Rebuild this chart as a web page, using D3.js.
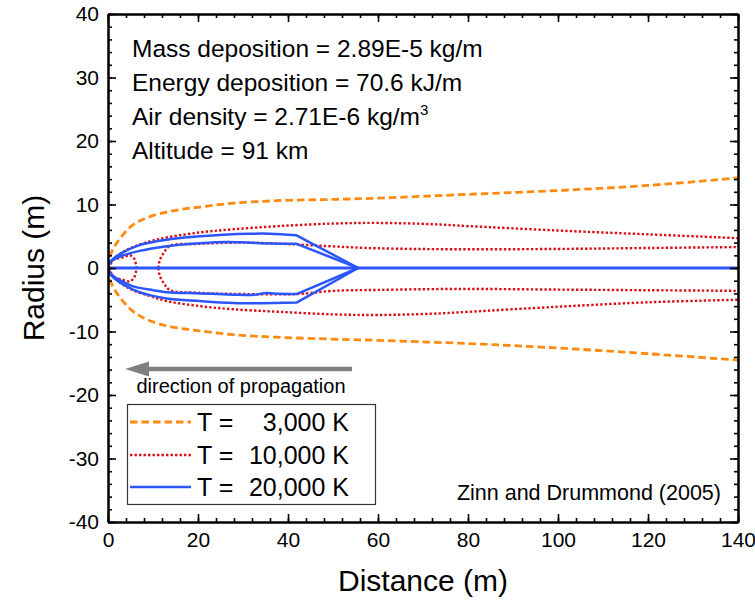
<!DOCTYPE html>
<html><head><meta charset="utf-8">
<script src="https://cdn.jsdelivr.net/npm/d3@7"></script>
<style>body{margin:0;background:#fff} text{font-family:"Liberation Sans",Arial,sans-serif;fill:#000}</style>
</head><body>
<svg id="c" width="755" height="600"></svg>
<script>
// ---- data ----
const xTicks = [0, 20, 40, 60, 80, 100, 120, 140];
const yTicks = [-40, -30, -20, -10, 0, 10, 20, 30, 40];
const legendTemps = ["3,000 K", "10,000 K", "20,000 K"];
const annotations = ["Mass deposition = 2.89E-5 kg/m", "Energy deposition = 70.6 kJ/m", "Air density = 2.71E-6 kg/m", "Altitude = 91 km"];

// T = 3,000 K contour
const t3Upper = [[0,0],[0.3,1.5],[1,2.8],[2,4.0],[3.4,5.3],[5,6.5],[7,7.4],[9.3,8.1],[13,8.8],[17,9.3],[20.4,9.6],[27.8,10.2],[37.5,10.6],[50,10.8],[60,11.0],[80,11.6],[100,12.2],[120,13.0],[140,14.2]];
const t3Lower = [[0,0],[0.3,-1.5],[1,-2.8],[2,-4.0],[3.4,-5.3],[5,-6.5],[7,-7.5],[9.3,-8.3],[13,-9.1],[17,-9.6],[20.4,-9.9],[27.8,-10.5],[37.5,-10.9],[50,-11.2],[60,-11.4],[80,-11.9],[100,-12.6],[120,-13.5],[140,-14.5]];

// T = 10,000 K contours
const t10OuterUpper = [[0,0],[1,1.1],[2,1.9],[3.5,2.6],[5.5,3.3],[9.3,4.2],[13,4.8],[20.4,5.6],[27.8,6.1],[38,6.6],[50,7.0],[60,7.1],[72,6.9],[80,6.6],[100,5.9],[120,5.3],[140,4.7]];
const t10OuterLower = [[0,0],[1,-1.1],[2,-1.9],[3.5,-2.7],[5.5,-3.5],[9.3,-4.4],[13,-5.2],[20.4,-6.0],[27.8,-6.5],[38,-6.9],[50,-7.3],[60,-7.4],[72,-7.2],[80,-6.9],[100,-6.1],[120,-5.4],[140,-5.0]];
const t10InnerUpper = [[11.2,0],[11.5,1.2],[12.5,2.5],[13.8,3.5],[20,3.8],[30,4.0],[42,3.7],[50,3.4],[60,3.1],[78,2.95],[100,3.0],[120,3.15],[140,3.3]];
const t10InnerLower = [[11.2,0],[11.5,-1.2],[12.5,-2.5],[13.8,-3.5],[20,-3.9],[30,-4.1],[42,-4.1],[50,-3.6],[60,-3.45],[78,-3.3],[100,-3.4],[120,-3.5],[140,-3.6]];
const t10Loop = [[0,0],[1.2,1.3],[3,1.6],[4.9,2.0],[5.8,1.5],[6.2,0.6],[6.3,0],[6.2,-0.6],[5.8,-1.5],[4.9,-2.1],[3,-1.8],[1.2,-1.4],[0,0]];

// T = 20,000 K contours (last point is the tip reached by a straight segment)
const t20OuterUpper = [[0,0],[0.4,0.9],[1.6,1.7],[3.4,2.5],[7,3.6],[10.8,4.2],[14.5,4.6],[20.4,5.0],[25.6,5.25],[31.6,5.4],[36,5.4],[41.9,5.15],[55.6,0]];
const t20InnerUpper = [[0,0],[0.4,0.8],[1.6,1.45],[3.4,2.0],[7,2.7],[10.8,3.2],[14.5,3.55],[20.4,3.9],[26.4,4.1],[31,4.0],[36,3.85],[41.9,3.8],[55.6,0]];
const t20InnerLower = [[0,0],[0.4,-0.8],[1.6,-1.5],[3.4,-2.2],[5.6,-2.9],[10,-3.5],[13,-3.8],[20.4,-4.0],[27.8,-4.2],[32,-4.25],[35.3,-3.95],[38,-4.05],[41.9,-4.1],[55.6,0]];
const t20OuterLower = [[0,0],[0.4,-0.9],[1.6,-1.75],[3.4,-2.6],[7,-3.8],[13,-4.8],[20.4,-5.2],[27.8,-5.5],[34,-5.55],[41.9,-5.45],[55.6,0]];
const t20Axis = [[0,0],[140,0]];

// ---- layout ----
const svg = d3.select("#c");
const L = 108, R = 738, T = 14, B = 522;
const x = d3.scaleLinear().domain([0, 140]).range([L, R]);
const y = d3.scaleLinear().domain([-40, 40]).range([B, T]);

const C3 = "#ff8a10", C10 = "#d81018", C20 = "#2b55ff";

svg.append("clipPath").attr("id","pc").append("rect")
  .attr("x", L).attr("y", T).attr("width", R-L).attr("height", B-T);

const smooth = d3.line().x(d=>x(d[0])).y(d=>y(d[1])).curve(d3.curveCatmullRom.alpha(0.5));
const straight = d3.line().x(d=>x(d[0])).y(d=>y(d[1]));

const g = svg.append("g").attr("clip-path","url(#pc)");
function draw(path, color, dash, w) {
  g.append("path").attr("d", path).attr("fill","none").attr("stroke",color)
   .attr("stroke-width",w).attr("stroke-dasharray",dash).attr("stroke-linejoin","round");
}
[t3Upper, t3Lower].forEach(d=>draw(smooth(d), C3, "7.5,4", 2.8));
[t10OuterUpper, t10OuterLower, t10InnerUpper, t10InnerLower, t10Loop].forEach(d=>draw(smooth(d), C10, "2.4,2.1", 2.4));
[t20OuterUpper, t20InnerUpper, t20InnerLower, t20OuterLower].forEach(d=>{
  draw(smooth(d.slice(0,-1)) + straight(d.slice(-2)).replace(/^M/,"L"), C20, null, 2.5);
});
draw(straight(t20Axis), C20, null, 2.8);

// ---- axes ----
function styleAxis(sel) {
  sel.select(".domain").attr("stroke","#000").attr("stroke-width",2);
  sel.selectAll(".tick line").attr("stroke","#000").attr("stroke-width",1.6);
  sel.selectAll(".tick text").style("font-size","21px").attr("fill","#000");
}
const xMinor = d3.range(0, 141, 4), yMinor = d3.range(-40, 41, 2);
svg.append("g").attr("transform",`translate(0,${B})`)
  .call(d3.axisBottom(x).tickValues(xMinor).tickSize(-4).tickFormat("").tickSizeOuter(0)).call(styleAxis);
svg.append("g").attr("transform",`translate(0,${B})`)
  .call(d3.axisBottom(x).tickValues(xTicks).tickSize(-8).tickPadding(10).tickSizeOuter(0).tickFormat(d=>d)).call(styleAxis);
svg.append("g").attr("transform",`translate(0,${T})`)
  .call(d3.axisTop(x).tickValues(xMinor).tickSize(-4).tickFormat("").tickSizeOuter(0)).call(styleAxis);
svg.append("g").attr("transform",`translate(0,${T})`)
  .call(d3.axisTop(x).tickValues(xTicks).tickSize(-8).tickFormat("").tickSizeOuter(0)).call(styleAxis);
svg.append("g").attr("transform",`translate(${L},0)`)
  .call(d3.axisLeft(y).tickValues(yMinor).tickSize(-4).tickFormat("").tickSizeOuter(0)).call(styleAxis);
svg.append("g").attr("transform",`translate(${L},0)`)
  .call(d3.axisLeft(y).tickValues(yTicks).tickSize(-8).tickPadding(9).tickSizeOuter(0).tickFormat(d=>d)).call(styleAxis);
svg.append("g").attr("transform",`translate(${R},0)`)
  .call(d3.axisRight(y).tickValues(yMinor).tickSize(-4).tickFormat("").tickSizeOuter(0)).call(styleAxis);
svg.append("g").attr("transform",`translate(${R},0)`)
  .call(d3.axisRight(y).tickValues(yTicks).tickSize(-8).tickFormat("").tickSizeOuter(0)).call(styleAxis);

// axis titles
svg.append("text").attr("x", (L+R)/2).attr("y", 591).attr("text-anchor","middle")
  .style("font-size","30px").text("Distance (m)");
svg.append("text").attr("transform",`translate(44,${(T+B)/2}) rotate(-90)`).attr("text-anchor","middle")
  .style("font-size","30px").text("Radius (m)");

// annotations
const baselines = [57, 91, 125, 159];
annotations.forEach((s,i)=>{
  const t = svg.append("text").attr("x",132).attr("y",baselines[i]).style("font-size","24.5px").text(s);
  if (i===2) t.append("tspan").attr("dy",-10).style("font-size","15px").text("3");
});

// arrow
svg.append("line").attr("x1",352).attr("x2",146).attr("y1",369).attr("y2",369)
  .attr("stroke","#808080").attr("stroke-width",4.5);
svg.append("path").attr("d","M125,369 L149,361.5 L149,376.5 Z").attr("fill","#808080");
svg.append("text").attr("x",241).attr("y",393).attr("text-anchor","middle")
  .style("font-size","20px").text("direction of propagation");

// legend
svg.append("rect").attr("x",127.5).attr("y",404.5).attr("width",248).attr("height",100)
  .attr("fill","#fff").attr("stroke","#333").attr("stroke-width",1.2);
const legStyles = [[C3,"7.5,4",2.8],[C10,"2.4,2.1",2.4],[C20,null,2.5]];
const legY = [422, 455, 487];
legendTemps.forEach((s,i)=>{
  svg.append("line").attr("x1",130).attr("x2",191).attr("y1",legY[i]).attr("y2",legY[i])
    .attr("stroke",legStyles[i][0]).attr("stroke-dasharray",legStyles[i][1]).attr("stroke-width",legStyles[i][2]);
  svg.append("text").attr("x",197).attr("y",legY[i]+9).style("font-size","25px").text("T =");
  svg.append("text").attr("x",349).attr("y",legY[i]+9).attr("text-anchor","end").style("font-size","25px").text(s);
});

// source
svg.append("text").attr("x",721).attr("y",500).attr("text-anchor","end")
  .style("font-size","21.5px").text("Zinn and Drummond (2005)");
</script>
</body></html>
